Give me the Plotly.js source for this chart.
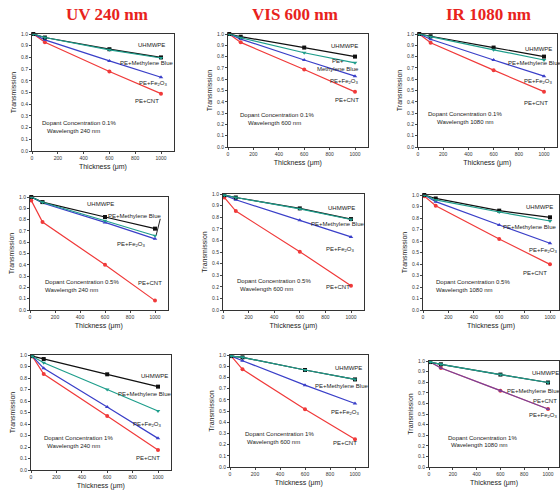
<!DOCTYPE html>
<html><head><meta charset="utf-8">
<script src="https://cdn.plot.ly/plotly-3.0.1.min.js"></script>
<style>html,body{margin:0;padding:0;background:#fff}#c{width:560px;height:490px}</style>
</head><body><div id="c"></div>
<script>
// Thickness (µm) at which transmission was measured
const thickness = [10, 100, 600, 1000];
// Panel order: row1 = 0.1 % (UV, VIS, IR), row2 = 0.5 %, row3 = 1 %
const panelTitles = ["UV 240 nm", "VIS 600 nm", "IR 1080 nm"];
const dopantText = ["Dopant Concentration 0.1%","Dopant Concentration 0.1%","Dopant Concentration 0.1%",
                    "Dopant Concentration 0.5%","Dopant Concentration 0.5%","Dopant Concentration 0.5%",
                    "Dopant Concentration 1%","Dopant Concentration 1%","Dopant Concentration 1%"];
const waveText = ["Wavelength 240 nm","Wavelength 600 nm","Wavelength 1080 nm",
                  "Wavelength 240 nm","Wavelength 600 nm","Wavelength 1080 nm",
                  "Wavelength 240 nm","Wavelength 600 nm","Wavelength 1080 nm"];
// Transmission values per panel
const uhmwpe = [
  [1.00, 0.97, 0.87, 0.80], [1.00, 0.976, 0.88, 0.80], [1.00, 0.98, 0.88, 0.80],
  [1.00, 0.955, 0.823, 0.72], [0.99, 0.97, 0.876, 0.784], [1.00, 0.97, 0.864, 0.806],
  [0.99, 0.965, 0.832, 0.725], [0.99, 0.979, 0.866, 0.782], [0.99, 0.969, 0.872, 0.797]
];
const methyleneBlue = [
  [1.00, 0.97, 0.865, 0.795], [1.00, 0.967, 0.834, 0.745], [1.00, 0.976, 0.86, 0.77],
  [1.00, 0.953, 0.79, 0.657], [0.99, 0.97, 0.872, 0.78], [1.00, 0.957, 0.852, 0.774],
  [0.99, 0.933, 0.70, 0.513], [0.99, 0.979, 0.866, 0.782], [0.99, 0.969, 0.872, 0.797]
];
const fe2o3 = [
  [1.00, 0.95, 0.77, 0.63], [1.00, 0.955, 0.77, 0.627], [1.00, 0.953, 0.77, 0.627],
  [1.00, 0.947, 0.775, 0.63], [0.99, 0.95, 0.773, 0.63], [1.00, 0.942, 0.739, 0.58],
  [0.99, 0.884, 0.548, 0.275], [0.99, 0.949, 0.731, 0.567], [0.99, 0.934, 0.72, 0.547]
];
const cnt = [
  [1.00, 0.93, 0.68, 0.49], [1.00, 0.926, 0.686, 0.488], [1.00, 0.923, 0.68, 0.49],
  [0.97, 0.778, 0.40, 0.083], [0.97, 0.853, 0.503, 0.21], [0.99, 0.907, 0.617, 0.397],
  [0.99, 0.835, 0.47, 0.174], [0.99, 0.872, 0.516, 0.248], [0.99, 0.934, 0.72, 0.547]
];
const seriesNames = ["UHMWPE", "PE+Methylene Blue", "PE+Fe<sub>2</sub>O<sub>3</sub>", "PE+CNT"];
const seriesNamesSplit = ["UHMWPE", "PE+<br>Methylene Blue", "PE+Fe<sub>2</sub>O<sub>3</sub>", "PE+CNT"];
// label positions (data coords) per panel: [uhmwpe, mb, fe, cnt]
const labelX = [
  [930, 890, 940, 890], [915, 870, 920, 935], [960, 930, 955, 940],
  [560, 840, 815, 960], [925, 900, 915, 900], [920, 845, 950, 880],
  [970, 895, 920, 920], [945, 895, 920, 920], [975, 880, 965, 975]
];
const labelY = [
  [0.91, 0.75, 0.58, 0.43], [0.895, 0.725, 0.58, 0.42], [0.87, 0.745, 0.58, 0.39],
  [0.94, 0.83, 0.577, 0.237], [0.88, 0.744, 0.52, 0.195], [0.893, 0.72, 0.52, 0.32],
  [0.817, 0.658, 0.40, 0.107], [0.88, 0.72, 0.49, 0.215], [0.89, 0.72, 0.484, 0.625]
];
// left edges of the two note lines (data x) and the first line's y
const noteX1 = [59, 79, 66, 101, 91, 84, 86, 107, 146];
const noteX2 = [98, 139, 133, 101, 117, 84, 112, 120, 166];
const noteY = [0.24, 0.28, 0.29, 0.246, 0.25, 0.246, 0.275, 0.293, 0.278];
const xTickVals = [0, 200, 400, 600, 800, 1000];
const xTickText = ["0", "200", "400", "600", "800", "1000"];
const yTickVals = [0, 0.1, 0.2, 0.3, 0.4, 0.5, 0.6, 0.7, 0.8, 0.9, 1.0];
const yTickText = ["0.0","0.1","0.2","0.3","0.4","0.5","0.6","0.7","0.8","0.9","1.0"];

// plot boxes in pixels: [left(x=0), pixel of x=1000, top(y=1), bottom(y=0)]
const boxes = [
  [32, 161, 34, 151], [228, 355, 34, 147], [418, 544, 34, 147],
  [30, 155, 197, 310], [223, 351, 194, 310], [423, 550, 195, 310],
  [31, 158, 355, 470], [230, 355, 355, 467], [429, 548, 361, 467]
];
const W = 560, H = 490;
const colors = ["#111111", "#1f9e8c", "#3a3fc8", "#f03a3a"];
const symbols = ["square", "triangle-down", "triangle-up", "circle"];
const allSeries = [uhmwpe, methyleneBlue, fe2o3, cnt];
const drawOrder = [3, 2, 0, 1];

const traces = [];
const layout = {
  width: W, height: H, margin: {l: 0, r: 0, t: 0, b: 0},
  paper_bgcolor: "#fff", plot_bgcolor: "#fff", showlegend: false,
  font: {family: "Liberation Sans, Arial, sans-serif", color: "#222"},
  annotations: []
};
const titleCenters = [107, 295, 488];
panelTitles.forEach((t, i) => {
  layout.annotations.push({text: "<b>" + t + "</b>", xref: "paper", yref: "paper",
    x: titleCenters[i] / W, y: 1 - 14 / H, showarrow: false, xanchor: "center", yanchor: "middle",
    font: {family: "Liberation Serif, Times New Roman, serif", size: 17, color: "#e8231c"}});
});

for (let p = 0; p < 9; p++) {
  const [l, x1k, t, b] = boxes[p];
  const r = Math.min(559, l + (x1k - l) * 1.1);
  const xmax = (r - l) / (x1k - l) * 1000;
  const n = p + 1;
  const xa = "xaxis" + (n === 1 ? "" : n), ya = "yaxis" + (n === 1 ? "" : n);
  const xr = "x" + (n === 1 ? "" : n), yr = "y" + (n === 1 ? "" : n);
  layout[xa] = {domain: [l / W, r / W], range: [0, xmax], anchor: yr,
    tickvals: xTickVals, ticktext: xTickText, ticks: "outside", ticklen: 2, tickwidth: 1,
    showline: true, mirror: true, linecolor: "#333", linewidth: 1, showgrid: false, zeroline: false,
    tickfont: {size: 5, color: "#333"},
    title: {text: "Thickness (μm)", font: {size: 7, color: "#222"}, standoff: 4}};
  layout[ya] = {domain: [1 - b / H, 1 - t / H], range: [0, 1.0], anchor: xr,
    tickvals: yTickVals, ticktext: yTickText, ticks: "outside", ticklen: 2, tickwidth: 1,
    showline: true, mirror: true, linecolor: "#333", linewidth: 1, showgrid: false, zeroline: false,
    tickfont: {size: 5, color: "#333"},
    title: {text: "Transmission", font: {size: 7, color: "#222"}, standoff: 3}};
  drawOrder.forEach(s => {
    const purple = (p === 8 && s === 2);
    traces.push({x: thickness, y: allSeries[s][p], xaxis: xr, yaxis: yr, type: "scatter",
      mode: "lines+markers", cliponaxis: false, opacity: purple ? 0.65 : 1,
      line: {color: colors[s], width: 1.2},
      marker: {symbol: symbols[s], size: 4, color: colors[s]}});
  });
  const names = (p === 1) ? seriesNamesSplit : seriesNames;
  for (let s = 0; s < 4; s++) {
    layout.annotations.push({text: names[s], xref: xr, yref: yr,
      x: labelX[p][s], y: labelY[p][s], showarrow: false, xanchor: "center", yanchor: "middle",
      font: {size: 6, color: "#222"}});
  }
  layout.annotations.push({text: dopantText[p], xref: xr, yref: yr, x: noteX1[p], y: noteY[p],
    xanchor: "left", showarrow: false, font: {size: 6, color: "#222"}});
  layout.annotations.push({text: waveText[p], xref: xr, yref: yr, x: noteX2[p], y: noteY[p] - 0.07,
    xanchor: "left", showarrow: false, font: {size: 6, color: "#222"}});
}
// pointer line from the Methylene Blue label to the curve ends (0.5 % UV panel)
layout.annotations.push({text: "", xref: "x4", yref: "y4", x: 1010, y: 0.665,
  axref: "x4", ayref: "y4", ax: 1045, ay: 0.82, showarrow: true, arrowhead: 0, arrowwidth: 1, arrowcolor: "#222"});

Plotly.newPlot("c", traces, layout, {displayModeBar: false, staticPlot: true});
</script>
</body></html>
